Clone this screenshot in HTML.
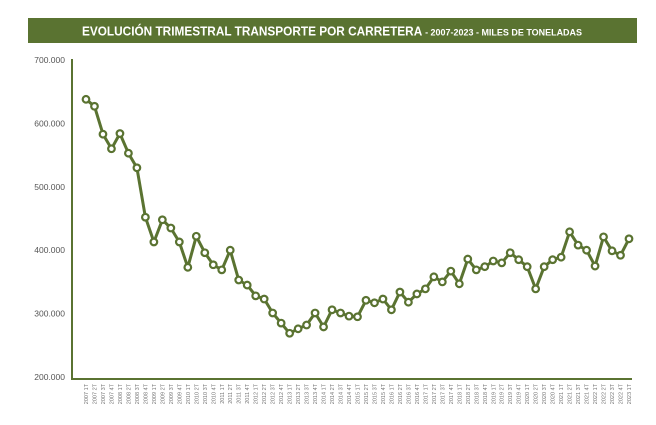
<!DOCTYPE html>
<html><head><meta charset="utf-8"><style>
html,body{margin:0;padding:0;background:#fff;width:656px;height:425px;overflow:hidden}
svg{display:block;font-family:"Liberation Sans",sans-serif}
</style></head><body>
<svg id="chart" width="656" height="425">
<rect x="28" y="18" width="609" height="25" fill="#5a7331"/>
<text x="332" y="35.5" text-anchor="middle" fill="#fff" font-weight="bold" font-size="12.5" textLength="500" lengthAdjust="spacingAndGlyphs">EVOLUCIÓN TRIMESTRAL TRANSPORTE POR CARRETERA <tspan font-size="9.5">- 2007-2023 - MILES DE TONELADAS</tspan></text>
<g id="axes"></g>
<g id="series"></g>
</svg>
<script>
const categories=[];
for(let y=2007;y<=2023;y++){for(let q=1;q<=4;q++){if(y===2023&&q>1)break;categories.push(y+" "+q+"T");}}
const values=[638,627,583,560,584,553,530,452,413,448,435,413,373,422,396,377,369,400,353,345,328,323,301,285,269,276,282,301,279,306,301,296,295,321,317,323,306,334,318,331,339,358,350,367,347,386,369,374,383,380,396,385,374,339,374,385,389,429,408,400,375,421,399,392,418];
const yTicks=[200000,300000,400000,500000,600000,700000];
const yTickLabels=["200.000","300.000","400.000","500.000","600.000","700.000"];
const NS="http://www.w3.org/2000/svg";
const x0=86,x1=629,yMin=200,yMax=700,py0=377,py1=60;
function xs(i){return x0+(x1-x0)*i/(categories.length-1);}
function ys(v){return py0-(v-yMin)/(yMax-yMin)*(py0-py1);}
const axes=document.getElementById('axes'),ser=document.getElementById('series');
function mk(t,a,p){const e=document.createElementNS(NS,t);for(const k in a)e.setAttribute(k,a[k]);p.appendChild(e);return e;}
const ya=mk('line',{x1:72,y1:59,x2:72,y2:380,stroke:'#5a7331','stroke-width':2},axes);


const xa=mk('line',{x1:71,y1:379,x2:632,y2:379,stroke:'#5a7331','stroke-width':2},axes);


yTicks.forEach((t,i)=>{
 const e=mk('text',{x:65,y:ys(t/1000)+3,'text-anchor':'end','font-size':'8.5',fill:'#555'},axes);
 e.textContent=yTickLabels[i];
 
 
});
categories.forEach((c,i)=>{
 const x=xs(i)+2;
 const e=mk('text',{x:x,y:384,transform:`rotate(-90 ${x} 384)`,'text-anchor':'end','font-size':'5.5',fill:'#777'},axes);
 e.textContent=c;
 
 
});
const pts=values.map((v,i)=>xs(i).toFixed(1)+","+ys(v).toFixed(1)).join(" ");
const line=mk('polyline',{points:pts,fill:'none',stroke:'#5a7331','stroke-width':3,'stroke-linejoin':'round'},ser);


values.forEach((v,i)=>{
 const c=mk('circle',{cx:xs(i),cy:ys(v),r:3.3,fill:'#fff',stroke:'#5a7331','stroke-width':2.2},ser);
 
 
});
</script>
</body></html>
